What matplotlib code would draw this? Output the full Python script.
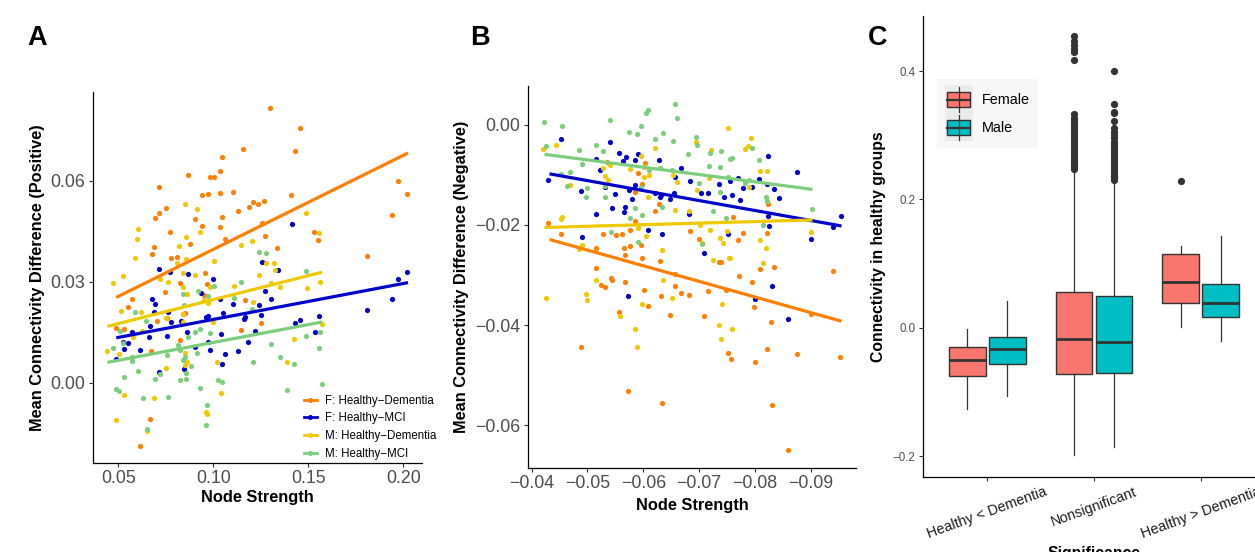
import numpy as np
import matplotlib.pyplot as plt
from matplotlib.lines import Line2D
from matplotlib.patches import Rectangle

plt.rcParams['font.family'] = ['Liberation Sans', 'DejaVu Sans']

W, H = 1255, 552

groups = ['F: Healthy\u2212Dementia', 'F: Healthy\u2212MCI',
          'M: Healthy\u2212Dementia', 'M: Healthy\u2212MCI']
colors = ['#FF7F00', '#0000CD', '#EEC900', '#7CCD7C']

# ---------------- panel A (positive) ----------------
a_fd_x = [0.1300, 0.1455, 0.1158, 0.1428, 0.1046, 0.0868, 0.1034, 0.0984, 0.1002, 0.0713,
          0.1104, 0.1034, 0.0971, 0.0939, 0.1411, 0.1971, 0.2021, 0.0753, 0.0716, 0.0693,
          0.0904, 0.1047, 0.1132, 0.1186, 0.1209, 0.1237, 0.1268, 0.1256, 0.0942, 0.1035,
          0.0774, 0.0879, 0.1060, 0.1274, 0.1532, 0.1553, 0.1939, 0.0689, 0.0679, 0.1337,
          0.0776, 0.0811, 0.0958, 0.1809,
          0.0825, 0.0968, 0.0747, 0.0953, 0.0572, 0.1167, 0.0553, 0.0853, 0.0842, 0.0705,
          0.0755, 0.0488, 0.0532, 0.1146, 0.1251, 0.0825, 0.0672, 0.0665, 0.0614]
a_fd_y = [0.0815, 0.0756, 0.0694, 0.0687, 0.0670, 0.0617, 0.0629, 0.0611, 0.0611, 0.0580,
          0.0566, 0.0563, 0.0561, 0.0557, 0.0557, 0.0600, 0.0561, 0.0518, 0.0504, 0.0490,
          0.0486, 0.0491, 0.0511, 0.0523, 0.0537, 0.0530, 0.0539, 0.0475, 0.0465, 0.0461,
          0.0447, 0.0411, 0.0426, 0.0435, 0.0446, 0.0424, 0.0499, 0.0402, 0.0382, 0.0399,
          0.0369, 0.0372, 0.0324, 0.0376,
          0.0295, 0.0293, 0.0269, 0.0261, 0.0249, 0.0244, 0.0224, 0.0206, 0.0204, 0.0184,
          0.0192, 0.0162, 0.0159, 0.0157, 0.0176, 0.0127, 0.0094, -0.0107, -0.0189]

a_fm_x = [0.1413, 0.0713, 0.0772, 0.0868, 0.0998, 0.1258, 0.1339, 0.1971, 0.2021, 0.0937,
          0.1034, 0.0677, 0.0695, 0.0686, 0.0760, 0.0667, 0.0756, 0.0779, 0.0830, 0.0960,
          0.0974, 0.1049, 0.1105, 0.1160, 0.1167, 0.1242, 0.1251, 0.1302, 0.1271, 0.1221,
          0.1184, 0.1132, 0.1039, 0.1047, 0.1060, 0.0984, 0.0971, 0.0614, 0.0532, 0.0488,
          0.0523, 0.0572, 0.1428, 0.1455, 0.1555, 0.1534, 0.1807, 0.1939, 0.0716, 0.0846,
          0.0860, 0.0904, 0.0553, 0.0663]
a_fm_y = [0.0470, 0.0337, 0.0327, 0.0322, 0.0308, 0.0359, 0.0335, 0.0308, 0.0328, 0.0266,
          0.0249, 0.0248, 0.0233, 0.0211, 0.0209, 0.0168, 0.0139, 0.0179, 0.0184, 0.0196,
          0.0198, 0.0208, 0.0232, 0.0188, 0.0194, 0.0230, 0.0201, 0.0249, 0.0273, 0.0154,
          0.0122, 0.0095, 0.0144, 0.0055, 0.0085, 0.0097, 0.0122, 0.0097, 0.0100, 0.0069,
          0.0120, 0.0150, 0.0176, 0.0185, 0.0199, 0.0149, 0.0216, 0.0248, 0.0030, 0.0041,
          0.0149, 0.0105, 0.0117, 0.0135]

a_md_x = [0.0849, 0.0916, 0.0602, 0.0600, 0.0588, 0.0525, 0.0474, 0.0855, 0.0928, 0.0818,
          0.0811, 0.0856, 0.1005, 0.1146, 0.1205, 0.0905, 0.0842, 0.1239, 0.1276, 0.1319,
          0.1326, 0.1486, 0.1558, 0.0721, 0.0762, 0.0839, 0.0984, 0.1107, 0.1207, 0.0514,
          0.0621, 0.0860, 0.0974, 0.0951, 0.0753, 0.0842, 0.0841, 0.0442, 0.0505, 0.0576,
          0.0625, 0.0849, 0.0860, 0.0851, 0.0753, 0.1021, 0.1042, 0.0528, 0.0689, 0.0489,
          0.0649, 0.0962, 0.0968, 0.1305, 0.1351, 0.1493, 0.1560, 0.1574, 0.1423, 0.1388,
          0.0997]
a_md_y = [0.0530, 0.0517, 0.0457, 0.0425, 0.0369, 0.0317, 0.0296, 0.0432, 0.0448, 0.0405,
          0.0355, 0.0368, 0.0362, 0.0408, 0.0420, 0.0321, 0.0325, 0.0319, 0.0356, 0.0356,
          0.0335, 0.0505, 0.0445, 0.0307, 0.0299, 0.0285, 0.0285, 0.0286, 0.0239, 0.0213,
          0.0210, 0.0263, 0.0236, 0.0244, 0.0192, 0.0204, 0.0179, 0.0095, 0.0084, 0.0135,
          0.0154, 0.0087, 0.0062, 0.0053, 0.0042, 0.0061, -0.0031, -0.0037, -0.0046, -0.0111,
          -0.0144, -0.0086, -0.0094, 0.0295, 0.0285, 0.0280, 0.0299, 0.0173, 0.0129, 0.0061,
          0.0181]

a_mm_x = [0.1239, 0.1276, 0.1486, 0.1146, 0.1004, 0.0921, 0.0842, 0.0847, 0.0974, 0.1107,
          0.0588, 0.1205, 0.0511, 0.0525, 0.0474, 0.0572, 0.0572, 0.0644, 0.0756, 0.0816,
          0.0825, 0.0851, 0.0865, 0.0904, 0.0930, 0.0984, 0.0913, 0.0841, 0.0881, 0.0856,
          0.0856, 0.0826, 0.0721, 0.0692, 0.0528, 0.0602, 0.0488, 0.0504, 0.0628, 0.0763,
          0.0928, 0.1023, 0.1044, 0.0968, 0.0649, 0.0962, 0.1207, 0.1305, 0.1351, 0.1423,
          0.1388, 0.1559, 0.1558, 0.1571, 0.1487]
a_mm_y = [0.0387, 0.0386, 0.0332, 0.0298, 0.0288, 0.0273, 0.0263, 0.0231, 0.0258, 0.0252,
          0.0209, 0.0218, 0.0154, 0.0119, 0.0104, 0.0077, 0.0065, 0.0183, 0.0082, 0.0112,
          0.0097, 0.0077, 0.0135, 0.0151, 0.0159, 0.0147, 0.0089, 0.0067, 0.0048, 0.0028,
          0.0010, 0.0008, 0.0024, 0.0011, 0.0018, 0.0034, -0.0019, -0.0025, -0.0045, -0.0043,
          -0.0017, 0.0008, 0.0003, -0.0066, -0.0138, -0.0126, 0.0061, 0.0115, 0.0075, 0.0055,
          -0.0023, 0.0150, 0.0103, -0.0005, 0.0137]

# fitted lines (start x, end x, start y, end y)
a_fit_x0 = [0.0489, 0.0489, 0.0442, 0.0442]
a_fit_x1 = [0.2025, 0.2025, 0.1573, 0.1573]
a_fit_y0 = [0.0253, 0.0133, 0.0167, 0.0060]
a_fit_y1 = [0.0682, 0.0297, 0.0328, 0.0180]

# ---------------- panel B (negative) ----------------
b_fd_x = [-0.0430, -0.0452, -0.0535, -0.0515, -0.0528, -0.0551, -0.0562, -0.0576, -0.0565, -0.0568,
          -0.0576, -0.0586, -0.0603, -0.0597, -0.0586, -0.0591, -0.0595, -0.0598, -0.0629, -0.0621,
          -0.0630, -0.0656, -0.0683, -0.0700, -0.0736, -0.0740, -0.0761, -0.0769, -0.0772, -0.0779,
          -0.0809, -0.0822, -0.0823, -0.0835, -0.0939, -0.0516, -0.0542,
          -0.0524, -0.0531, -0.0544, -0.0568, -0.0601, -0.0608, -0.0556, -0.0631, -0.0647, -0.0656,
          -0.0668, -0.0682, -0.0716, -0.0708, -0.0794, -0.0798, -0.0748, -0.0828, -0.0752, -0.0757,
          -0.0800, -0.0822, -0.0830, -0.0875, -0.0859, -0.0953, -0.0900, -0.0489, -0.0573, -0.0634]
b_fd_y = [-0.0197, -0.0218, -0.0074, -0.0246, -0.0219, -0.0220, -0.0218, -0.0210, -0.0246, -0.0259,
          -0.0241, -0.0193, -0.0076, -0.0118, -0.0134, -0.0097, -0.0240, -0.0265, -0.0158, -0.0172,
          -0.0271, -0.0297, -0.0213, -0.0228, -0.0273, -0.0273, -0.0185, -0.0230, -0.0302, -0.0217,
          -0.0287, -0.0217, -0.0158, -0.0284, -0.0291, -0.0286, -0.0306,
          -0.0319, -0.0323, -0.0309, -0.0314, -0.0329, -0.0362, -0.0373, -0.0342, -0.0379, -0.0322,
          -0.0336, -0.0339, -0.0331, -0.0382, -0.0314, -0.0364, -0.0330, -0.0394, -0.0455, -0.0468,
          -0.0473, -0.0448, -0.0560, -0.0457, -0.0648, -0.0463, -0.0377, -0.0444, -0.0531, -0.0556]

b_fm_x = [-0.0452, -0.0430, -0.0489, -0.0515, -0.0523, -0.0541, -0.0532, -0.0550, -0.0544, -0.0515,
          -0.0556, -0.0563, -0.0569, -0.0575, -0.0579, -0.0568, -0.0566, -0.0586, -0.0591, -0.0586,
          -0.0621, -0.0629, -0.0630, -0.0632, -0.0647, -0.0657, -0.0655, -0.0668, -0.0683, -0.0682,
          -0.0703, -0.0716, -0.0736, -0.0745, -0.0756, -0.0759, -0.0770, -0.0773, -0.0779, -0.0794,
          -0.0808, -0.0822, -0.0823, -0.0824, -0.0826, -0.0835, -0.0843, -0.0875, -0.0900, -0.0954,
          -0.0940, -0.0490, -0.0608, -0.0633, -0.0709, -0.0751, -0.0573, -0.0831, -0.0800, -0.0859]
b_fm_y = [-0.0028, -0.0111, -0.0132, -0.0069, -0.0091, -0.0035, -0.0124, -0.0138, -0.0167, -0.0178,
          -0.0056, -0.0073, -0.0064, -0.0130, -0.0148, -0.0164, -0.0175, -0.0071, -0.0058, -0.0121,
          -0.0136, -0.0071, -0.0144, -0.0140, -0.0148, -0.0104, -0.0136, -0.0087, -0.0113, -0.0178,
          -0.0137, -0.0136, -0.0119, -0.0144, -0.0112, -0.0140, -0.0106, -0.0151, -0.0126, -0.0124,
          -0.0109, -0.0119, -0.0062, -0.0183, -0.0203, -0.0128, -0.0147, -0.0095, -0.0228, -0.0182,
          -0.0204, -0.0224, -0.0211, -0.0218, -0.0255, -0.0218, -0.0341, -0.0322, -0.0348, -0.0387]

b_md_x = [-0.0421, -0.0443, -0.0468, -0.0455, -0.0453, -0.0485, -0.0490, -0.0528, -0.0532, -0.0536,
          -0.0540, -0.0576, -0.0595, -0.0601, -0.0611, -0.0601, -0.0608, -0.0621, -0.0653, -0.0657,
          -0.0661, -0.0681, -0.0695, -0.0696, -0.0701, -0.0721, -0.0717, -0.0751, -0.0793, -0.0783,
          -0.0788, -0.0790, -0.0809, -0.0821, -0.0901, -0.0591, -0.0604, -0.0634, -0.0706, -0.0720,
          -0.0725, -0.0737, -0.0743, -0.0750, -0.0753, -0.0756, -0.0809, -0.0814, -0.0820, -0.0426,
          -0.0497, -0.0499, -0.0515, -0.0558, -0.0586, -0.0589, -0.0597, -0.0636, -0.0652, -0.0736,
          -0.0741, -0.0739, -0.0759]
b_md_y = [-0.0048, -0.0040, -0.0120, -0.0185, -0.0188, -0.0248, -0.0240, -0.0087, -0.0102, -0.0111,
          -0.0081, -0.0089, -0.0062, -0.0084, -0.0101, -0.0105, -0.0144, -0.0046, -0.0101, -0.0171,
          -0.0115, -0.0173, -0.0035, -0.0130, -0.0200, -0.0051, -0.0107, -0.0006, -0.0026, -0.0048,
          -0.0042, -0.0124, -0.0093, -0.0092, -0.0214, -0.0206, -0.0223, -0.0250, -0.0235, -0.0211,
          -0.0269, -0.0226, -0.0236, -0.0213, -0.0265, -0.0265, -0.0230, -0.0275, -0.0246, -0.0346,
          -0.0337, -0.0350, -0.0309, -0.0381, -0.0408, -0.0443, -0.0357, -0.0310, -0.0345, -0.0399,
          -0.0358, -0.0427, -0.0408]

b_mm_x = [-0.0422, -0.0426, -0.0455, -0.0484, -0.0490, -0.0453, -0.0464, -0.0468, -0.0497, -0.0500,
          -0.0515, -0.0528, -0.0541, -0.0531, -0.0532, -0.0575, -0.0588, -0.0595, -0.0604, -0.0608,
          -0.0611, -0.0595, -0.0586, -0.0576, -0.0597, -0.0621, -0.0630, -0.0633, -0.0636, -0.0654,
          -0.0657, -0.0661, -0.0652, -0.0680, -0.0695, -0.0696, -0.0700, -0.0717, -0.0720, -0.0725,
          -0.0737, -0.0740, -0.0737, -0.0749, -0.0756, -0.0759, -0.0752, -0.0782, -0.0794, -0.0790,
          -0.0807, -0.0819, -0.0821, -0.0814, -0.0902, -0.0590, -0.0705, -0.0543]
b_mm_y = [0.0005, -0.0042, -0.0003, -0.0050, -0.0079, -0.0099, -0.0122, -0.0094, -0.0145, -0.0126,
          -0.0040, -0.0052, 0.0010, -0.0122, -0.0145, -0.0015, -0.0019, -0.0003, 0.0024, 0.0030,
          -0.0091, -0.0125, -0.0166, -0.0186, -0.0180, -0.0028, -0.0086, -0.0165, -0.0017, -0.0032,
          0.0042, 0.0014, -0.0091, -0.0058, -0.0024, -0.0040, -0.0116, -0.0083, -0.0056, -0.0172,
          -0.0084, -0.0052, -0.0134, -0.0187, -0.0068, -0.0066, -0.0105, -0.0117, -0.0047, -0.0111,
          -0.0070, -0.0145, -0.0152, -0.0200, -0.0169, -0.0233, -0.0237, -0.0215]

b_fit_x0 = [-0.0432, -0.0432, -0.0423, -0.0423]
b_fit_x1 = [-0.0955, -0.0955, -0.0903, -0.0903]
b_fit_y0 = [-0.0229, -0.0098, -0.0205, -0.0059]
b_fit_y1 = [-0.0392, -0.0202, -0.0190, -0.0129]

# ---------------- panel C (boxplots) ----------------
categories = ['Healthy < Dementia', 'Nonsignificant', 'Healthy > Dementia']
sexes = ['Female', 'Male']
sex_colors = ['#F8766D', '#00BFC4']

f_whislo = [-0.1265, -0.1984, 0.0007]
f_q1 = [-0.0744, -0.0722, 0.0386]
f_med = [-0.0508, -0.0179, 0.0709]
f_q3 = [-0.0294, 0.0556, 0.1143]
f_whishi = [-0.0020, 0.2448, 0.1269]
f_fliers = [[],
            [0.454, 0.446, 0.441, 0.435, 0.429, 0.417, 0.333, 0.327, 0.322, 0.318, 0.313,
             0.309, 0.305, 0.301, 0.297, 0.293, 0.289, 0.285, 0.281, 0.277, 0.273, 0.269,
             0.265, 0.262, 0.259, 0.256, 0.253, 0.250, 0.247],
            [0.2294]]

m_whislo = [-0.1062, -0.1857, -0.0212]
m_q1 = [-0.0558, -0.0706, 0.0172]
m_med = [-0.0333, -0.0223, 0.0380]
m_q3 = [-0.0141, 0.0501, 0.0687]
m_whishi = [0.0419, 0.2283, 0.1433]
m_fliers = [[],
            [0.3995, 0.348, 0.336, 0.334, 0.322, 0.311, 0.305, 0.300, 0.295, 0.290, 0.285,
             0.281, 0.277, 0.273, 0.269, 0.265, 0.261, 0.257, 0.253, 0.249, 0.245, 0.241,
             0.237, 0.234, 0.231],
            []]

# ---------------- figure ----------------
fig = plt.figure(figsize=(W / 100, H / 100), dpi=100)


def add_px_axes(left, top, right, bottom):
    return fig.add_axes([left / W, 1 - bottom / H, (right - left) / W, (bottom - top) / H])


def classic(ax, tick_size):
    for s in ['top', 'right']:
        ax.spines[s].set_visible(False)
    for s in ['left', 'bottom']:
        ax.spines[s].set_linewidth(0.9)
        ax.spines[s].set_color('black')
    ax.tick_params(length=3.1, width=0.8, color='#333333', pad=2.5,
                   labelsize=tick_size, labelcolor='#4D4D4D')


axA = add_px_axes(92.7, 91.7, 421.7, 462.7)
axB = add_px_axes(528.3, 85.6, 856.0, 467.6)
axC = add_px_axes(923.3, 15.8, 1264.7, 477.1)

a_x = [a_fd_x, a_fm_x, a_md_x, a_mm_x]
a_y = [a_fd_y, a_fm_y, a_md_y, a_mm_y]
b_x = [b_fd_x, b_fm_x, b_md_x, b_mm_x]
b_y = [b_fd_y, b_fm_y, b_md_y, b_mm_y]

for ax, xs, ys, x0, x1, y0, y1 in [
        (axA, a_x, a_y, a_fit_x0, a_fit_x1, a_fit_y0, a_fit_y1),
        (axB, b_x, b_y, b_fit_x0, b_fit_x1, b_fit_y0, b_fit_y1)]:
    for i, c in enumerate(colors):
        ax.scatter(xs[i], ys[i], s=14, color=c, linewidths=0, zorder=2)
    for i, c in enumerate(colors):
        ax.plot([x0[i], x1[i]], [y0[i], y1[i]], color=c, lw=2.3,
                solid_capstyle='butt', zorder=3)

# panel A axes
classic(axA, 12.8)
axA.set_xlim(0.0365, 0.2097)
axA.set_ylim(-0.0238, 0.0864)
axA.set_xticks([0.05, 0.10, 0.15, 0.20])
axA.set_xticklabels(['0.05', '0.10', '0.15', '0.20'])
axA.set_yticks([0.00, 0.03, 0.06])
axA.set_yticklabels(['0.00', '0.03', '0.06'])
axA.set_xlabel('Node Strength', fontsize=11.8, fontweight='bold', va='center')
axA.set_ylabel('Mean Connectivity Difference (Positive)', fontsize=11.8,
               fontweight='bold', va='center')
axA.xaxis.set_label_coords(0.5, -0.095)
axA.yaxis.set_label_coords(-0.169, 0.5)

handles = [Line2D([], [], color=c, lw=2.0, marker='o', ms=3.6, mew=0) for c in colors]
leg = axA.legend(handles, groups, loc='upper left',
                 bbox_to_anchor=((302 - 92.7) / 329, (462.7 - 393) / 371),
                 borderaxespad=0, borderpad=0.15, fontsize=8.3, handlelength=1.15,
                 handletextpad=0.7, labelspacing=0.5, numpoints=1, frameon=True)
leg.get_frame().set_facecolor('white')
leg.get_frame().set_linewidth(0)

# panel B axes
classic(axB, 12.8)
axB.set_xlim(-0.0394, -0.0981)
axB.set_ylim(-0.0684, 0.0078)
axB.set_xticks([-0.04, -0.05, -0.06, -0.07, -0.08, -0.09])
axB.set_xticklabels(['\u22120.04', '\u22120.05', '\u22120.06', '\u22120.07', '\u22120.08', '\u22120.09'])
axB.set_yticks([0.00, -0.02, -0.04, -0.06])
axB.set_yticklabels(['0.00', '\u22120.02', '\u22120.04', '\u22120.06'])
axB.set_xlabel('Node Strength', fontsize=11.8, fontweight='bold', va='center')
axB.set_ylabel('Mean Connectivity Difference (Negative)', fontsize=11.8,
               fontweight='bold', va='center')
axB.xaxis.set_label_coords(0.5, -0.098)
axB.yaxis.set_label_coords(-0.205, 0.5)

# panel C boxplots
pos = np.arange(1, len(categories) + 1)
sex_stats = [(f_whislo, f_q1, f_med, f_q3, f_whishi, f_fliers),
             (m_whislo, m_q1, m_med, m_q3, m_whishi, m_fliers)]
for k, (lo, q1, med, q3, hi, fl) in enumerate(sex_stats):
    stats = [dict(whislo=lo[i], q1=q1[i], med=med[i], q3=q3[i], whishi=hi[i], fliers=fl[i])
             for i in range(len(categories))]
    offset = -0.1875 if k == 0 else 0.1875
    axC.bxp(stats, positions=pos + offset, widths=0.345, patch_artist=True,
            showcaps=False, manage_ticks=False,
            boxprops=dict(facecolor=sex_colors[k], edgecolor='#333333', linewidth=1.0),
            medianprops=dict(color='#333333', linewidth=2.0),
            whiskerprops=dict(color='#333333', linewidth=0.9),
            flierprops=dict(marker='o', markerfacecolor='#333333',
                            markeredgecolor='none', markersize=5.2))

classic(axC, 8.3)
axC.set_xlim(0.4, 3.6)
axC.set_ylim(-0.2324, 0.486)
axC.set_xticks(pos)
axC.set_xticklabels(categories, rotation=20, ha='center', fontsize=10.3, color='#1A1A1A')
axC.set_yticks([-0.2, 0.0, 0.2, 0.4])
axC.set_yticklabels(['\u22120.2', '0.0', '0.2', '0.4'])
axC.set_ylabel('Connectivity in healthy groups', fontsize=11.3, fontweight='bold', va='center')
axC.yaxis.set_label_coords(-0.132, 0.5)
axC.set_xlabel('Significance', fontsize=11.3, fontweight='bold', va='center')
axC.xaxis.set_label_coords(0.5, -0.165)


# legend of panel C, drawn in figure pixels
def fx(p):
    return p / W


def fy(p):
    return 1 - p / H


def px_rect(x0, y0, x1, y1, **kw):
    fig.add_artist(Rectangle((fx(x0), fy(y1)), (x1 - x0) / W, (y1 - y0) / H,
                             transform=fig.transFigure, **kw))


def px_line(x0, y0, x1, y1, **kw):
    fig.add_artist(Line2D([fx(x0), fx(x1)], [fy(y0), fy(y1)], transform=fig.transFigure, **kw))


px_rect(936.7, 79.2, 1038.3, 147.9, facecolor='#F7F7F7', edgecolor='none')
px_rect(945.0, 84.5, 973.3, 140.8, facecolor='#EBEBEB', edgecolor='none')
key_centres = [99.6, 127.5]
for k, yc in enumerate(key_centres):
    px_line(958.7, yc - 12.3, 958.7, yc + 12.3, color='#333333', lw=0.9)
    px_rect(947.3, yc - 7.6, 970.0, yc + 7.6, facecolor=sex_colors[k],
            edgecolor='#333333', linewidth=1.0)
    px_line(947.3, yc, 970.0, yc, color='#333333', lw=1.6)
    fig.text(fx(981.7), fy(yc), sexes[k], fontsize=10.4, ha='left', va='center')

# panel letters
for letter, xc in [('A', 36.7), ('B', 479.7), ('C', 877.5)]:
    fig.text(fx(xc), fy(37.8), letter, fontsize=19.5, fontweight='bold',
             ha='center', va='center')

fig.savefig('out.png', dpi=100)
